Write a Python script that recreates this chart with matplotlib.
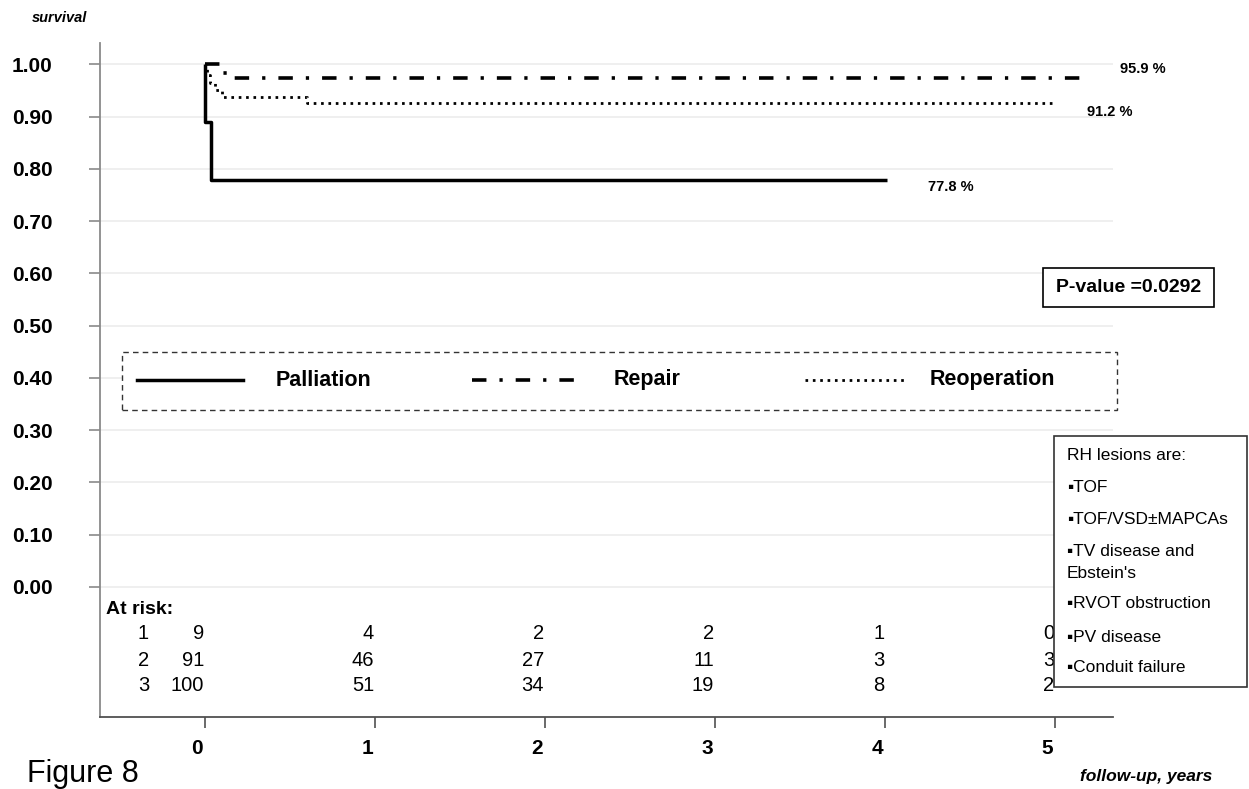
import matplotlib
matplotlib.use("Agg")
import matplotlib.pyplot as plt
from matplotlib.lines import Line2D
from matplotlib.patches import Rectangle
from matplotlib.transforms import ScaledTranslation

# survival curves (years, survival)
pall_t = [0, 0, 0.035, 4.01]
pall_s = [1.0, 0.889, 0.778, 0.778]
rep_t = [0, 0.098, 0.13, 5.22]
rep_s = [1.0, 0.983, 0.974, 0.974]
reop_t = [0, 0.01, 0.03, 0.06, 0.10, 0.60, 4.99]
reop_s = [1.0, 0.98, 0.965, 0.95, 0.938, 0.926, 0.926]

end_labels = ["95.9 %", "91.2 %", "77.8 %"]
groups = ["Palliation", "Repair", "Reoperation"]

# numbers at risk
risk_times = [0, 1, 2, 3, 4, 5]
risk_rows = ["1", "2", "3"]
risk_1 = [9, 4, 2, 2, 1, 0]
risk_2 = [91, 46, 27, 11, 3, 3]
risk_3 = [100, 51, 34, 19, 8, 2]

yticks = [0.0, 0.1, 0.2, 0.3, 0.4, 0.5, 0.6, 0.7, 0.8, 0.9, 1.0]
xticks = [0, 1, 2, 3, 4, 5]
p_value = "P-value =0.0292"
lesions = ["RH lesions are:", "\u25aaTOF", "\u25aaTOF/VSD\u00b1MAPCAs", "\u25aaTV disease and",
           "Ebstein's", "\u25aaRVOT obstruction", "\u25aaPV disease", "\u25aaConduit failure"]

W, H = 1249, 789
plt.rcParams["font.family"] = ["Liberation Sans", "DejaVu Sans"]
fig = plt.figure(figsize=(W / 100, H / 100), dpi=100)
ax = fig.add_axes([100 / W, (H - 717) / H, (1113 - 100) / W, (717 - 43) / H])


def fx(x):
    return x / W


def fy(y):
    return 1 - y / H


ax.set_xlim(-0.618, 5.341)
ax.set_ylim(-0.249, 1.0408)
for s in ["top", "right"]:
    ax.spines[s].set_visible(False)
ax.spines["left"].set_color("#8a8a8a")
ax.spines["bottom"].set_color("#505050")
ax.spines["left"].set_linewidth(1.3)
ax.spines["bottom"].set_linewidth(1.3)

ax.set_yticks(yticks)
ax.set_yticklabels([f"{v:.2f}" for v in yticks], fontsize=15, fontweight="bold")
ax.set_xticks(xticks)
ax.set_xticklabels([str(v) for v in xticks], fontsize=15, fontweight="bold")
ax.tick_params(axis="y", length=8, width=1.2, color="#8a8a8a", pad=26)
ax.tick_params(axis="x", length=8, width=1.2, color="#505050", pad=8)
for lbl in ax.get_xticklabels():
    lbl.set_transform(lbl.get_transform() + ScaledTranslation(-8 / 100, 0, fig.dpi_scale_trans))

for v in yticks:
    ax.axhline(v, color="#ececec", lw=1.2, zorder=0)

dashdot = (0, (4.0, 3.6, 0.9, 3.6))
dotted = (0, (0.95, 1.7))
ax.plot(pall_t, pall_s, drawstyle="steps-post", color="black", lw=2.5, solid_capstyle="butt")
ax.plot(rep_t, rep_s, drawstyle="steps-post", color="black", lw=2.6, linestyle=dashdot)
ax.plot(reop_t, reop_s, drawstyle="steps-post", color="black", lw=2.0, linestyle=dotted)

lab_pos = [(5.38, 0.9905), (5.19, 0.908), (4.25, 0.765)]
for (lx, ly), txt in zip(lab_pos, end_labels):
    ax.text(lx, ly, txt, fontsize=10.5, fontweight="bold", va="center", ha="left",
            family=["Liberation Sans Narrow", "Liberation Sans"])

# at risk table
ax.text(-0.58, -0.0425, "At risk:", fontsize=14, fontweight="bold", va="center", ha="left")
row_y = [-0.090, -0.140, -0.188]
for ry, name, counts in zip(row_y, risk_rows, [risk_1, risk_2, risk_3]):
    ax.text(-0.33, ry, name, fontsize=14.5, va="center", ha="right")
    for t, c in zip(risk_times, counts):
        ax.text(t - 0.005, ry, str(c), fontsize=14.5, va="center", ha="right", zorder=2)

# legend box
fig.add_artist(Rectangle((fx(122), fy(410)), (1117 - 122) / W, (410 - 352) / H,
                         transform=fig.transFigure, fc="white", ec="#333333", lw=1.0,
                         linestyle=(0, (4, 3)), zorder=3))
leg_styles = [dict(lw=2.5, linestyle="-"),
              dict(lw=2.6, linestyle=dashdot),
              dict(lw=2.0, linestyle=dotted)]
leg_x = [(137, 243, 276), (472, 580, 614), (805, 908, 930)]
for (x0, x1, xt), st, g in zip(leg_x, leg_styles, groups):
    fig.add_artist(Line2D([fx(x0), fx(x1)], [fy(380), fy(380)], transform=fig.transFigure,
                          color="black", zorder=4, **st))
    fig.text(fx(xt), fy(380), g, fontsize=15.5, fontweight="bold", va="center", ha="left", zorder=4)

# p-value box
fig.add_artist(Rectangle((fx(1043), fy(307)), (1214 - 1043) / W, (307 - 268) / H,
                         transform=fig.transFigure, fc="white", ec="black", lw=1.2, zorder=3))
fig.text(fx(1056), fy(288), p_value, fontsize=14, fontweight="bold", va="center", ha="left", zorder=4)

# lesions box
fig.add_artist(Rectangle((fx(1054), fy(687)), (1247 - 1054) / W, (687 - 436) / H,
                         transform=fig.transFigure, fc="white", ec="#333333", lw=1.2, zorder=3))
les_y = [456, 487, 519, 551, 573, 604, 637, 668]
for ly, txt in zip(les_y, lesions):
    fig.text(fx(1067), fy(ly), txt, fontsize=12.5, va="center", ha="left", zorder=4,
             family=["Liberation Sans", "DejaVu Sans"])

fig.text(fx(32), fy(18), "survival", fontsize=10.5, fontstyle="italic", fontweight="bold",
         va="center", ha="left")
fig.text(fx(1080), fy(777), "follow-up, years", fontsize=12.5, fontstyle="italic",
         fontweight="bold", va="center", ha="left")
fig.text(fx(27), fy(782), "Figure 8", fontsize=22, va="baseline", ha="left")

fig.savefig("out.png", dpi=100)
